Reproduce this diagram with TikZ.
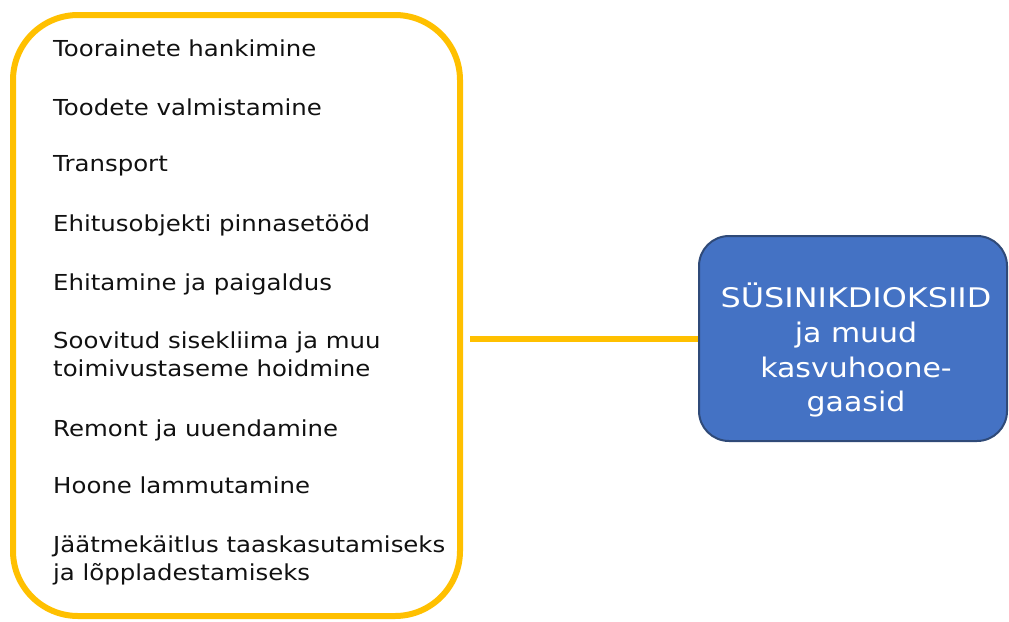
\documentclass[tikz,border=0pt]{standalone}
\usepackage{fontspec}
\setmainfont[FakeStretch=1.11]{DejaVu Sans}
\newfontfamily\widecaps[FakeStretch=1.18]{DejaVu Sans}
\definecolor{frameyellow}{HTML}{FFC000}
\definecolor{boxblue}{HTML}{4472C4}
\definecolor{boxedge}{HTML}{2F4A78}
\definecolor{itemtext}{HTML}{111111}
\begin{document}
\begin{tikzpicture}[x=1pt,y=-1pt,
  stagesframe/.style={draw=frameyellow, line width=6pt, rounded corners=65pt,
    minimum width=447pt, minimum height=601pt, inner sep=0pt},
  % the base anchor of a multi-line node sits on its last line
  item/.style={anchor=base west, align=left, text=itemtext, inner sep=0pt,
    font=\fontsize{22}{28}\selectfont},
  resultbox/.style={draw=boxedge, line width=2pt, fill=boxblue, rounded corners=30pt,
    minimum width=308pt, minimum height=205pt, inner sep=0pt},
  resulttext/.style={align=center, text=white, inner sep=0pt,
    font=\fontsize{27}{34.7}\selectfont},
  link/.style={draw=frameyellow, line width=6pt}]
\useasboundingbox (0,0) rectangle (1009,621);

% life-cycle stages
\node[stagesframe] (stages) at (236.5,315.5) {};
\node[item] (s1) at (53,56.7)  {Toorainete hankimine};
\node[item] (s2) at (53,115)   {Toodete valmistamine};
\node[item] (s3) at (53,171.7) {Transport};
\node[item] (s4) at (53,231.7) {Ehitusobjekti pinnasetööd};
\node[item] (s5) at (53,290)   {Ehitamine ja paigaldus};
\node[item] (s6) at (53,376)   {Soovitud sisekliima ja muu\\toimivustaseme hoidmine};
\node[item] (s7) at (53,436)   {Remont ja uuendamine};
\node[item] (s8) at (53,493.3) {Hoone lammutamine};
\node[item] (s9) at (53,580)   {Jäätmekäitlus taaskasutamiseks\\ja lõppladestamiseks};

% emissions
\node[resultbox] (co2) at (853,338.5) {};
\node[resulttext, anchor=base] (co2label) at (856,411.7)
  {{\widecaps SÜSINIKDIOKSIID}\\ja muud\\kasvuhoone-\\gaasid};

\draw[link, shorten <=7pt] (co2.west -| stages.east) -- (co2.west);
\end{tikzpicture}
\end{document}
